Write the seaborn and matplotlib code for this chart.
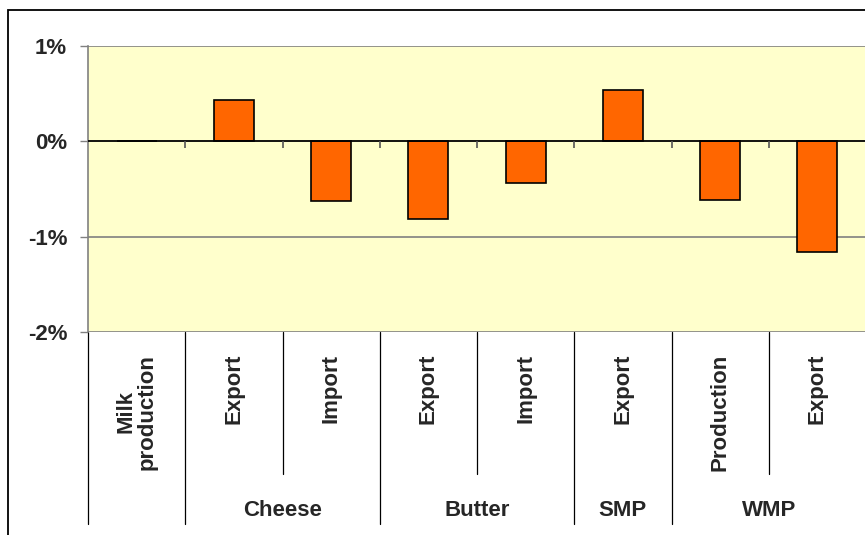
import matplotlib
matplotlib.use("Agg")
import matplotlib.pyplot as plt
import matplotlib.patches as mpatches
import seaborn as sns

# data (percent change)
bar_keys = ["Milk production", "Cheese Export", "Cheese Import", "Butter Export",
            "Butter Import", "SMP Export", "WMP Production", "WMP Export"]
bar_labels = ["Milk\nproduction", "Export", "Import", "Export",
              "Import", "Export", "Production", "Export"]
values = [0.0, 0.43, -0.63, -0.81, -0.44, 0.54, -0.62, -1.16]
groups = ["", "Cheese", "Butter", "SMP", "WMP"]
group_spans = [(0, 1), (1, 3), (3, 5), (5, 6), (6, 8)]
y_ticks = [1, 0, -1, -2]

sns.set_style("white")
plt.rcParams['font.family'] = ['Liberation Sans', 'DejaVu Sans']
plt.rcParams['font.weight'] = 'bold'

W, H = 865, 535
fig = plt.figure(figsize=(W / 100, H / 100), dpi=100)
fig.patch.set_facecolor("white")

# outer chart border (cut off at right/bottom like the reference)
fig.patches.append(mpatches.Rectangle((8 / W, -0.1), 1.2, 1 - 10 / H + 0.1,
                                      transform=fig.transFigure, fill=False,
                                      edgecolor="black", linewidth=1.3))

left, right, top, bottom = 88, 866, 46, 332
ax = fig.add_axes([left / W, 1 - bottom / H, (right - left) / W, (bottom - top) / H])
ax.set_facecolor("#FFFFCC")

sns.barplot(x=bar_keys, y=values, color="#FF6600", saturation=1, edgecolor="black",
            linewidth=1.2, width=0.41, ax=ax, zorder=3)

ax.set_xlim(-0.5, len(bar_keys) - 0.5)
ax.set_ylim(-2, 1)
ax.set_yticks(y_ticks)
ax.set_yticklabels([f"{t}%" for t in y_ticks], fontsize=16, fontweight="bold")
ax.tick_params(axis="y", length=6, width=1, color="#808080", pad=9, left=True)
ax.set_xticks([])
ax.set_xlabel("")
ax.set_ylabel("")
for s in ["top", "right", "bottom"]:
    ax.spines[s].set_visible(False)
ax.spines["left"].set_color("#808080")
ax.spines["left"].set_linewidth(1.2)

for t in [1, -1, -2]:
    ax.axhline(t, color="#808080", linewidth=1.2, zorder=1)
ax.axhline(0, color="black", linewidth=1.3, zorder=4)

# small ticks on the zero line at category boundaries
bounds = [i - 0.5 for i in range(len(bar_keys) + 1)]
ax.vlines(bounds[1:-1], 0, -0.075, color="#555555", linewidth=1.2, zorder=4)

# multi-level category axis
tr = ax.get_xaxis_transform()
px = bottom - top
group_edges = sorted({a for a, b in group_spans} | {b for a, b in group_spans})
for b in bounds:
    idx = int(b + 0.5)
    if idx in group_edges:
        y_end = -(524 - bottom) / px
    else:
        y_end = -(474 - bottom) / px
    ax.plot([b, b], [0, y_end], transform=tr, color="black", linewidth=0.9,
            clip_on=False)

for i, lab in enumerate(bar_labels):
    ax.text(i, -(354 - bottom) / px, lab, transform=tr, rotation=90,
            ha="center", va="top", multialignment="center",
            fontsize=16, fontweight="bold", linespacing=1.0)

for g, (a, b) in zip(groups, group_spans):
    if g:
        ax.text((a + b - 1) / 2, -(511 - bottom) / px, g, transform=tr,
                ha="center", va="center", fontsize=16, fontweight="bold")

fig.savefig("out.png", dpi=100)
